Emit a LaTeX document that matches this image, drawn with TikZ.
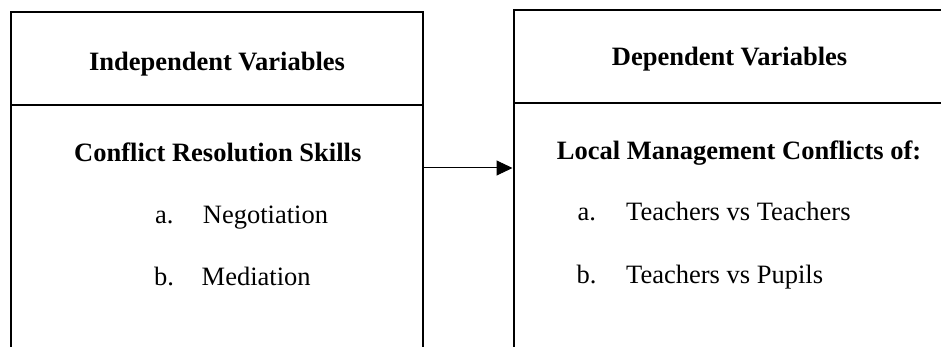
\documentclass[tikz,border=0pt]{standalone}
\usepackage{fontspec}
\setmainfont{Liberation Serif}
\usetikzlibrary{arrows.meta}
\begin{document}
\begin{tikzpicture}[x=1pt,y=-1pt,
  frame/.style={line width=1.8pt, line cap=rect},
  link/.style={line width=1pt, -{Triangle[length=16pt,width=15pt]}},
  txt/.style={inner sep=0pt, font=\fontsize{26.5}{30}\selectfont},
  head/.style={txt, font=\fontsize{26.5}{30}\selectfont\bfseries}]
  \useasboundingbox (0,0) rectangle (941,347);
  \clip (0,0) rectangle (941,347);

  % left column: independent variables
  \draw[frame] (11,352) -- (11,12) -- (423,12) -- (423,352);
  \draw[frame] (11,105) -- (423,105);
  \node[head, anchor=base] (ivhead) at (217,70.7) {Independent Variables};
  \node[head, anchor=base west] (crs) at (74,161.7) {Conflict Resolution Skills};
  \node[txt, anchor=base west] (ia) at (155,223.3) {a.};
  \node[txt, anchor=base west] (neg) at (202.7,223.3) {Negotiation};
  \node[txt, anchor=base west] (ib) at (154,285) {b.};
  \node[txt, anchor=base west] (med) at (201.5,285) {Mediation};

  % right column: dependent variables
  \draw[frame] (514,352) -- (514,10) -- (960,10);
  \draw[frame] (514,103) -- (960,103);
  \node[head, anchor=base west] (dvhead) at (611.7,66) {Dependent Variables};
  \node[head, anchor=base west] (lmc) at (556.7,160) {Local Management Conflicts of:};
  \node[txt, anchor=base west] (da) at (577.3,221) {a.};
  \node[txt, anchor=base west] (tt) at (626,221) {Teachers vs Teachers};
  \node[txt, anchor=base west] (db) at (576.5,283) {b.};
  \node[txt, anchor=base west] (tp) at (626,283) {Teachers vs Pupils};

  % link between the two columns
  \coordinate (src) at (423,168);
  \coordinate (dst) at (512.5,168);
  \draw[link] (src) -- (dst);
\end{tikzpicture}
\end{document}
